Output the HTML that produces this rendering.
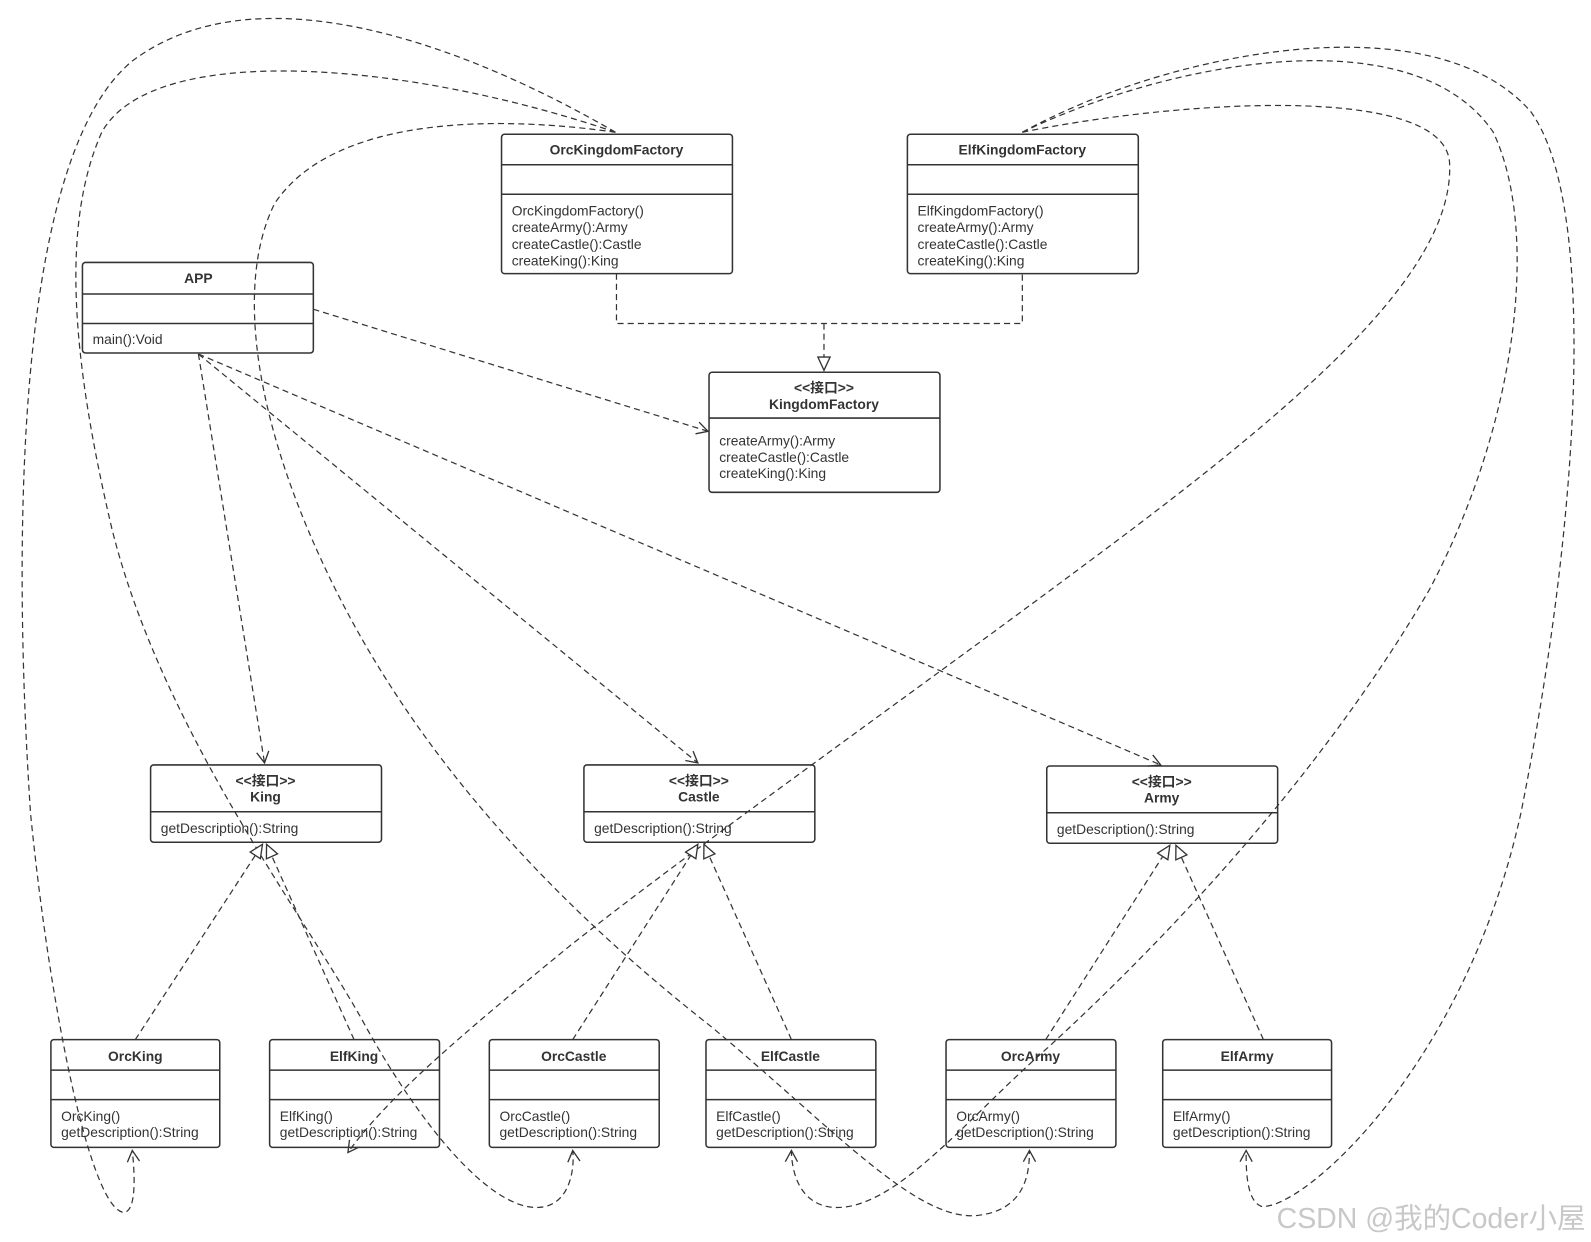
<!DOCTYPE html>
<html><head><meta charset="utf-8"><style>
html,body{margin:0;padding:0;background:#fff;}
svg{display:block;}
text{font-family:"Liberation Sans","Noto Sans CJK SC",sans-serif;font-size:13.6px;fill:#333;}
.b{font-weight:bold;text-anchor:middle;}
.box{fill:#fff;stroke:#333;stroke-width:1.5;}
.dv{stroke:#333;stroke-width:1.5;}
.d{fill:none;stroke:#333;stroke-width:1.2;stroke-dasharray:6,4;}
</style></head><body>
<svg width="1591" height="1242" viewBox="0 0 1564 1221" xmlns="http://www.w3.org/2000/svg">
<defs>
<marker id="oa" markerWidth="14" markerHeight="14" refX="12" refY="7" orient="auto" markerUnits="userSpaceOnUse">
<path d="M1,1 L12,7 L1,13" fill="none" stroke="#333" stroke-width="1.3"/></marker>
<marker id="tri" markerWidth="16" markerHeight="16" refX="14" refY="8" orient="auto" markerUnits="userSpaceOnUse">
<path d="M1,2 L14,8 L1,14 Z" fill="#fff" stroke="#333" stroke-width="1.3"/></marker>
</defs>

<path class="d" marker-end="url(#oa)" d="M605,130 C450,40 250,-30 130,60 C20,150 10,500 30,800 C50,1000 90,1190 122,1192 C135,1190 132,1150 130,1131"/>
<path class="d" marker-end="url(#oa)" d="M605,130 C400,60 150,40 100,130 C60,220 70,350 110,520 C160,720 300,900 360,1010 C410,1100 480,1190 530,1187 C560,1185 565,1150 563,1131"/>
<path class="d" marker-end="url(#oa)" d="M605,130 C500,115 330,110 270,200 C230,280 250,420 330,580 C420,760 560,900 700,1010 C820,1110 900,1200 960,1195 C1010,1190 1012,1150 1012,1131"/>
<path class="d" marker-end="url(#oa)" d="M1005,130 C1150,100 1420,80 1425,160 C1430,260 1300,380 1100,530 C900,680 700,820 560,930 C450,1020 380,1080 342,1133"/>
<path class="d" marker-end="url(#oa)" d="M1005,130 C1150,60 1390,15 1468,130 C1515,230 1490,420 1405,580 C1300,760 1150,920 1030,1030 C950,1100 880,1190 820,1187 C785,1185 778,1150 778,1131"/>
<path class="d" marker-end="url(#oa)" d="M1005,130 C1150,50 1410,0 1505,110 C1570,200 1555,500 1495,800 C1440,1050 1280,1190 1240,1186 C1225,1180 1225,1150 1225,1131"/>

<path class="d" marker-end="url(#oa)" d="M308,304 L696,424"/>
<path class="d" marker-end="url(#oa)" d="M195,348 L260,750"/>
<path class="d" marker-end="url(#oa)" d="M195,348 L686,750"/>
<path class="d" marker-end="url(#oa)" d="M195,348 L1141,752"/>

<path class="d" d="M606,269 L606,318 L1005,318 L1005,269"/>
<path class="d" marker-end="url(#tri)" d="M810,318 L810,364"/>

<path class="d" marker-end="url(#tri)" d="M133,1022 L258,830"/>
<path class="d" marker-end="url(#tri)" d="M348,1022 L262,830"/>
<path class="d" marker-end="url(#tri)" d="M563,1022 L686,830"/>
<path class="d" marker-end="url(#tri)" d="M778,1022 L692,830"/>
<path class="d" marker-end="url(#tri)" d="M1028,1022 L1150,831"/>
<path class="d" marker-end="url(#tri)" d="M1242,1022 L1156,831"/>

<rect class="box" x="493" y="132" width="227" height="137" rx="3" fill-opacity="0"/>
<line class="dv" x1="493" y1="162" x2="720" y2="162"/><line class="dv" x1="493" y1="191" x2="720" y2="191"/>
<text class="b" x="606" y="152">OrcKingdomFactory</text>
<text x="503" y="212">OrcKingdomFactory()</text><text x="503" y="228">createArmy():Army</text><text x="503" y="245">createCastle():Castle</text><text x="503" y="261">createKing():King</text>

<rect class="box" x="892" y="132" width="227" height="137" rx="3" fill-opacity="0"/>
<line class="dv" x1="892" y1="162" x2="1119" y2="162"/><line class="dv" x1="892" y1="191" x2="1119" y2="191"/>
<text class="b" x="1005" y="152">ElfKingdomFactory</text>
<text x="902" y="212">ElfKingdomFactory()</text><text x="902" y="228">createArmy():Army</text><text x="902" y="245">createCastle():Castle</text><text x="902" y="261">createKing():King</text>

<rect class="box" x="81" y="258" width="227" height="89" rx="3" fill-opacity="0"/>
<line class="dv" x1="81" y1="289" x2="308" y2="289"/><line class="dv" x1="81" y1="318" x2="308" y2="318"/>
<text class="b" x="195" y="278">APP</text>
<text x="91" y="338">main():Void</text>

<rect class="box" x="697" y="366" width="227" height="118" rx="3"/>
<line class="dv" x1="697" y1="411" x2="924" y2="411"/>
<text class="b" x="810" y="386">&lt;&lt;接口&gt;&gt;</text>
<text class="b" x="810" y="402">KingdomFactory</text>
<text x="707" y="438">createArmy():Army</text><text x="707" y="454">createCastle():Castle</text><text x="707" y="470">createKing():King</text>

<rect class="box" x="148" y="752" width="227" height="76" rx="3" fill-opacity="0"/>
<line class="dv" x1="148" y1="798" x2="375" y2="798"/>
<text class="b" x="261" y="772">&lt;&lt;接口&gt;&gt;</text><text class="b" x="261" y="788">King</text>
<text x="158" y="819">getDescription():String</text>

<rect class="box" x="574" y="752" width="227" height="76" rx="3" fill-opacity="0"/>
<line class="dv" x1="574" y1="798" x2="801" y2="798"/>
<text class="b" x="687" y="772">&lt;&lt;接口&gt;&gt;</text><text class="b" x="687" y="788">Castle</text>
<text x="584" y="819">getDescription():String</text>

<rect class="box" x="1029" y="753" width="227" height="76" rx="3" fill-opacity="0"/>
<line class="dv" x1="1029" y1="799" x2="1256" y2="799"/>
<text class="b" x="1142" y="773">&lt;&lt;接口&gt;&gt;</text><text class="b" x="1142" y="789">Army</text>
<text x="1039" y="820">getDescription():String</text>

<rect class="box" x="50" y="1022" width="166" height="106" rx="3" fill-opacity="0"/>
<line class="dv" x1="50" y1="1052" x2="216" y2="1052"/><line class="dv" x1="50" y1="1081" x2="216" y2="1081"/>
<text class="b" x="133" y="1043">OrcKing</text><text x="60" y="1102">OrcKing()</text><text x="60" y="1118">getDescription():String</text>

<rect class="box" x="265" y="1022" width="167" height="106" rx="3" fill-opacity="0"/>
<line class="dv" x1="265" y1="1052" x2="432" y2="1052"/><line class="dv" x1="265" y1="1081" x2="432" y2="1081"/>
<text class="b" x="348" y="1043">ElfKing</text><text x="275" y="1102">ElfKing()</text><text x="275" y="1118">getDescription():String</text>

<rect class="box" x="481" y="1022" width="167" height="106" rx="3" fill-opacity="0"/>
<line class="dv" x1="481" y1="1052" x2="648" y2="1052"/><line class="dv" x1="481" y1="1081" x2="648" y2="1081"/>
<text class="b" x="564" y="1043">OrcCastle</text><text x="491" y="1102">OrcCastle()</text><text x="491" y="1118">getDescription():String</text>

<rect class="box" x="694" y="1022" width="167" height="106" rx="3" fill-opacity="0"/>
<line class="dv" x1="694" y1="1052" x2="861" y2="1052"/><line class="dv" x1="694" y1="1081" x2="861" y2="1081"/>
<text class="b" x="777" y="1043">ElfCastle</text><text x="704" y="1102">ElfCastle()</text><text x="704" y="1118">getDescription():String</text>

<rect class="box" x="930" y="1022" width="167" height="106" rx="3" fill-opacity="0"/>
<line class="dv" x1="930" y1="1052" x2="1097" y2="1052"/><line class="dv" x1="930" y1="1081" x2="1097" y2="1081"/>
<text class="b" x="1013" y="1043">OrcArmy</text><text x="940" y="1102">OrcArmy()</text><text x="940" y="1118">getDescription():String</text>

<rect class="box" x="1143" y="1022" width="166" height="106" rx="3" fill-opacity="0"/>
<line class="dv" x1="1143" y1="1052" x2="1309" y2="1052"/><line class="dv" x1="1143" y1="1081" x2="1309" y2="1081"/>
<text class="b" x="1226" y="1043">ElfArmy</text><text x="1153" y="1102">ElfArmy()</text><text x="1153" y="1118">getDescription():String</text>

<text x="1255" y="1207" style="font-size:28px;fill:#c8c8c8;">CSDN @我的Coder小屋</text>
</svg>
</body></html>
